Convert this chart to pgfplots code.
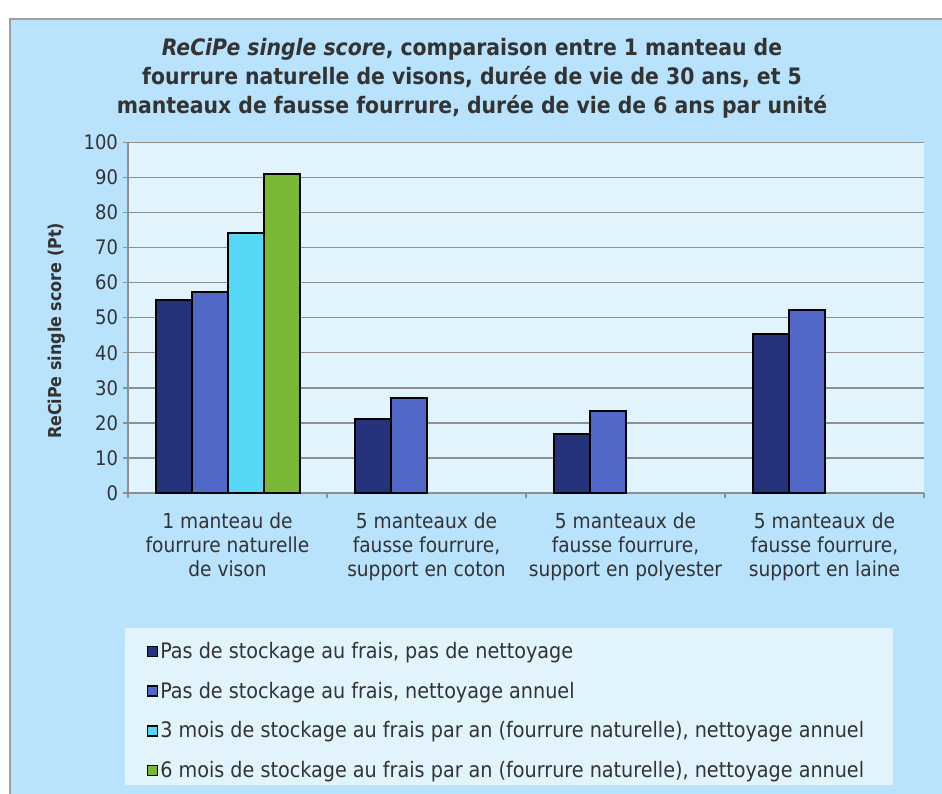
\documentclass[border=0pt]{standalone}
\usepackage{pgfplots}
\pgfplotsset{compat=1.18}
\usepackage{fontspec}
\setmainfont{DejaVu Sans Condensed}
\definecolor{bgblue}{HTML}{B9E3FC}
\definecolor{plotbg}{HTML}{E1F3FD}
\definecolor{sA}{HTML}{25347A}
\definecolor{sB}{HTML}{5068C8}
\definecolor{sC}{HTML}{55D8F6}
\definecolor{sD}{HTML}{78B834}
\definecolor{txt}{HTML}{333333}
\definecolor{gridc}{HTML}{8F8F8F}

\begin{document}
\begin{tikzpicture}
\useasboundingbox (0,0) rectangle (706.5pt,594.75pt);
\fill[white] (0,0) rectangle (706.5pt,594.75pt);
\filldraw[fill=bgblue, draw=gray!75, line width=1pt] (7.5pt,-5pt) rectangle (712pt,580.5pt);
% legend box
\fill[plotbg] (93.75pt,6pt) rectangle (669.75pt,123.75pt);
% title
\node[align=center, text=txt, font=\bfseries\fontsize{17}{21.75}\selectfont]
  at (354pt,536pt)
  {\textit{ReCiPe single score}, comparaison entre 1 manteau de\\
   fourrure naturelle de visons, durée de vie de 30 ans, et 5\\
   manteaux de fausse fourrure, durée de vie de 6 ans par unité};

\begin{axis}[
    at={(96pt,225pt)}, anchor=south west,
    scale only axis,
    width=597pt, height=263pt,
    ybar=0pt, bar width=27pt,
    xmin=-0.5, xmax=3.5,
    ymin=0, ymax=100,
    ytick={0,10,...,100},
    xtick={-0.5,0.5,1.5,2.5,3.5},
    xticklabels={},
    extra x ticks={0,1,2,3},
    extra x tick labels={{1 manteau de\\fourrure naturelle\\de vison},
                         {5 manteaux de\\fausse fourrure,\\support en coton},
                         {5 manteaux de\\fausse fourrure,\\support en polyester},
                         {5 manteaux de\\fausse fourrure,\\support en laine}},
    extra x tick style={major tick length=0pt, grid=none},
    xticklabel style={align=center, text=txt, font=\fontsize{15.5}{18}\selectfont, yshift=-11pt},
    yticklabel style={text=txt, font=\fontsize{15}{18}\selectfont},
    /pgf/number format/assume math mode=true,
    axis lines*=left,
    axis line style={gridc, line width=1.1pt, -},
    tick style={gridc, line width=1.1pt},
    tick align=outside,
    major tick length=4pt,
    ymajorgrids,
    grid style={gridc, line width=1.1pt},
    axis background/.style={fill=plotbg},
    ylabel={ReCiPe single score (Pt)},
    ylabel style={at={(axis description cs:-0.089,0.462)}, anchor=center,
                  font=\bfseries\fontsize{13.3}{15}\selectfont, text=txt},
    legend style={at={(axis description cs:0.018,-0.41)}, anchor=north west,
                  draw=none, fill=none, row sep=12.6pt,
                  font=\fontsize{16}{18}\selectfont, text=txt,
                  nodes={inner sep=1.8pt}},
    legend cell align=left,
    legend image code/.code={\draw[#1, line width=1pt] (0pt,-3.75pt) rectangle (7.5pt,3.75pt);},
]
\addplot[fill=sA, draw=black, line width=1.5pt] coordinates {(0,55) (1,21) (2,16.7) (3,45.3)};
\addplot[fill=sB, draw=black, line width=1.5pt] coordinates {(0,57.2) (1,27.2) (2,23.3) (3,52.1)};
\addplot[fill=sC, draw=black, line width=1.5pt] coordinates {(0,74.1)};
\addplot[fill=sD, draw=black, line width=1.5pt] coordinates {(0,91)};
\legend{{Pas de stockage au frais, pas de nettoyage},
        {Pas de stockage au frais, nettoyage annuel},
        {3 mois de stockage au frais par an (fourrure naturelle), nettoyage annuel},
        {6 mois de stockage au frais par an (fourrure naturelle), nettoyage annuel}}
\end{axis}
\end{tikzpicture}
\end{document}
